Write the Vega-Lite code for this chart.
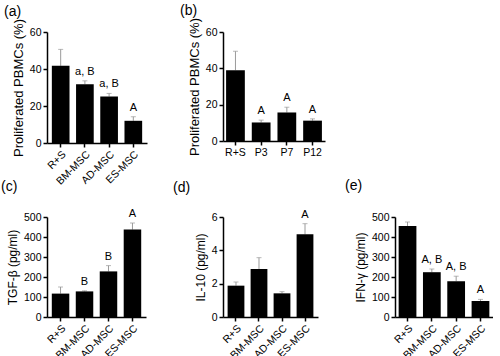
{
  "$schema": "https://vega.github.io/schema/vega-lite/v6.json",
  "padding": {"left": 1, "top": 3, "right": 0, "bottom": 0},
  "background": "white",
  "datasets": {
    "a": [
      {"cat": "R+S", "v": 41.7, "hi": 50.6, "lab": ""},
      {"cat": "BM-MSC", "v": 31.8, "hi": 33.6, "lab": "a, B"},
      {"cat": "AD-MSC", "v": 25.1, "hi": 26.8, "lab": "a, B"},
      {"cat": "ES-MSC", "v": 12.0, "hi": 14.2, "lab": "A"}
    ],
    "b": [
      {"cat": "R+S", "v": 39.0, "hi": 49.4, "lab": ""},
      {"cat": "P3", "v": 10.2, "hi": 11.5, "lab": "A"},
      {"cat": "P7", "v": 15.7, "hi": 18.6, "lab": "A"},
      {"cat": "P12", "v": 11.2, "hi": 12.2, "lab": "A"}
    ],
    "c": [
      {"cat": "R+S", "v": 117, "hi": 150, "lab": ""},
      {"cat": "BM-MSC", "v": 128, "hi": 131, "lab": "B"},
      {"cat": "AD-MSC", "v": 228, "hi": 257, "lab": "B"},
      {"cat": "ES-MSC", "v": 437, "hi": 470, "lab": "A"}
    ],
    "d": [
      {"cat": "R+S", "v": 1.88, "hi": 2.1, "lab": ""},
      {"cat": "BM-MSC", "v": 2.88, "hi": 3.56, "lab": ""},
      {"cat": "AD-MSC", "v": 1.42, "hi": 1.52, "lab": ""},
      {"cat": "ES-MSC", "v": 4.96, "hi": 5.6, "lab": "A"}
    ],
    "e": [
      {"cat": "R+S", "v": 455, "hi": 475, "lab": ""},
      {"cat": "BM-MSC", "v": 224, "hi": 240, "lab": "A, B"},
      {"cat": "AD-MSC", "v": 179, "hi": 204, "lab": "A, B"},
      {"cat": "ES-MSC", "v": 80, "hi": 88, "lab": "A"}
    ]
  },
  "config": {
    "font": "Liberation Sans",
    "view": {"stroke": null},
    "axis": {
      "grid": false,
      "domainColor": "black",
      "domainWidth": 1.5,
      "tickColor": "black",
      "tickWidth": 1.5,
      "tickSize": 4,
      "labelColor": "black",
      "labelFontSize": 10.5,
      "titleColor": "black",
      "titleFontSize": 12,
      "titleFontWeight": "normal"
    },
    "title": {"fontSize": 14, "fontWeight": "normal", "anchor": "start", "frame": "group", "color": "black"}
  },
  "bounds": "flush",
  "spacing": 185,
  "vconcat": [
    {
      "bounds": "flush",
      "spacing": 76,
      "hconcat": [
        {
          "title": {"text": "(a)", "dx": -43, "offset": 0},
          "width": 100, "height": 111,
          "data": {"name": "a"},
          "encoding": {
            "x": {"field": "cat", "type": "nominal", "sort": null, "title": null, "scale": {"paddingInner": 0.27, "paddingOuter": 0.2}, "axis": {"labelAngle": -45}},
            "y": {"type": "quantitative", "scale": {"domain": [0, 60]}, "axis": {"values": [0, 20, 40, 60], "title": "Proliferated PBMCs (%)", "titleFontSize": 13}}
          },
          "layer": [
            {"mark": {"type": "rule", "color": "#9a9a9a", "strokeWidth": 1}, "encoding": {"y": {"field": "v", "type": "quantitative"}, "y2": {"field": "hi"}}},
            {"mark": {"type": "tick", "color": "#9a9a9a", "thickness": 1, "size": 5}, "encoding": {"y": {"field": "hi", "type": "quantitative"}}},
            {"mark": {"type": "bar", "color": "black"}, "encoding": {"y": {"field": "v", "type": "quantitative"}}},
            {"mark": {"type": "text", "dy": -9, "fontSize": 11, "color": "black"}, "encoding": {"y": {"field": "hi", "type": "quantitative"}, "text": {"field": "lab"}}}
          ]
        },
        {
          "title": {"text": "(b)", "dx": -43, "offset": 0},
          "width": 102, "height": 109,
          "data": {"name": "b"},
          "encoding": {
            "x": {"field": "cat", "type": "nominal", "sort": null, "title": null, "scale": {"paddingInner": 0.27, "paddingOuter": 0.12}, "axis": {"labelAngle": 0}},
            "y": {"type": "quantitative", "scale": {"domain": [0, 60]}, "axis": {"values": [0, 20, 40, 60], "title": "Proliferated PBMCs (%)", "titleFontSize": 13}}
          },
          "layer": [
            {"mark": {"type": "rule", "color": "#9a9a9a", "strokeWidth": 1}, "encoding": {"y": {"field": "v", "type": "quantitative"}, "y2": {"field": "hi"}}},
            {"mark": {"type": "tick", "color": "#9a9a9a", "thickness": 1, "size": 5}, "encoding": {"y": {"field": "hi", "type": "quantitative"}}},
            {"mark": {"type": "bar", "color": "black"}, "encoding": {"y": {"field": "v", "type": "quantitative"}}},
            {"mark": {"type": "text", "dy": -9, "fontSize": 11, "color": "black"}, "encoding": {"y": {"field": "hi", "type": "quantitative"}, "text": {"field": "lab"}}}
          ]
        }
      ]
    },
    {
      "bounds": "flush",
      "spacing": 77,
      "hconcat": [
        {
          "title": {"text": "(c)", "dx": -46, "offset": 14},
          "width": 99, "height": 100,
          "data": {"name": "c"},
          "encoding": {
            "x": {"field": "cat", "type": "nominal", "sort": null, "title": null, "scale": {"paddingInner": 0.27, "paddingOuter": 0.2}, "axis": {"labelAngle": -45}},
            "y": {"type": "quantitative", "scale": {"domain": [0, 500]}, "axis": {"values": [0, 100, 200, 300, 400, 500], "title": "TGF-β (pg/ml)"}}
          },
          "layer": [
            {"mark": {"type": "rule", "color": "#9a9a9a", "strokeWidth": 1}, "encoding": {"y": {"field": "v", "type": "quantitative"}, "y2": {"field": "hi"}}},
            {"mark": {"type": "tick", "color": "#9a9a9a", "thickness": 1, "size": 5}, "encoding": {"y": {"field": "hi", "type": "quantitative"}}},
            {"mark": {"type": "bar", "color": "black"}, "encoding": {"y": {"field": "v", "type": "quantitative"}}},
            {"mark": {"type": "text", "dy": -9, "fontSize": 11, "color": "black"}, "encoding": {"y": {"field": "hi", "type": "quantitative"}, "text": {"field": "lab"}}}
          ]
        },
        {
          "title": {"text": "(d)", "dx": -50, "offset": 14},
          "width": 95, "height": 100,
          "data": {"name": "d"},
          "encoding": {
            "x": {"field": "cat", "type": "nominal", "sort": null, "title": null, "scale": {"paddingInner": 0.27, "paddingOuter": 0.2}, "axis": {"labelAngle": -45}},
            "y": {"type": "quantitative", "scale": {"domain": [0, 6]}, "axis": {"values": [0, 2, 4, 6], "title": "IL-10 (pg/ml)"}}
          },
          "layer": [
            {"mark": {"type": "rule", "color": "#9a9a9a", "strokeWidth": 1}, "encoding": {"y": {"field": "v", "type": "quantitative"}, "y2": {"field": "hi"}}},
            {"mark": {"type": "tick", "color": "#9a9a9a", "thickness": 1, "size": 5}, "encoding": {"y": {"field": "hi", "type": "quantitative"}}},
            {"mark": {"type": "bar", "color": "black"}, "encoding": {"y": {"field": "v", "type": "quantitative"}}},
            {"mark": {"type": "text", "dy": -9, "fontSize": 11, "color": "black"}, "encoding": {"y": {"field": "hi", "type": "quantitative"}, "text": {"field": "lab"}}}
          ]
        },
        {
          "title": {"text": "(e)", "dx": -50, "offset": 14},
          "width": 98, "height": 100,
          "data": {"name": "e"},
          "encoding": {
            "x": {"field": "cat", "type": "nominal", "sort": null, "title": null, "scale": {"paddingInner": 0.27, "paddingOuter": 0.15}, "axis": {"labelAngle": -45}},
            "y": {"type": "quantitative", "scale": {"domain": [0, 500]}, "axis": {"values": [0, 100, 200, 300, 400, 500], "title": "IFN-γ (pg/ml)"}}
          },
          "layer": [
            {"mark": {"type": "rule", "color": "#9a9a9a", "strokeWidth": 1}, "encoding": {"y": {"field": "v", "type": "quantitative"}, "y2": {"field": "hi"}}},
            {"mark": {"type": "tick", "color": "#9a9a9a", "thickness": 1, "size": 5}, "encoding": {"y": {"field": "hi", "type": "quantitative"}}},
            {"mark": {"type": "bar", "color": "black"}, "encoding": {"y": {"field": "v", "type": "quantitative"}}},
            {"mark": {"type": "text", "dy": -9, "fontSize": 11, "color": "black"}, "encoding": {"y": {"field": "hi", "type": "quantitative"}, "text": {"field": "lab"}}}
          ]
        }
      ]
    }
  ]
}
